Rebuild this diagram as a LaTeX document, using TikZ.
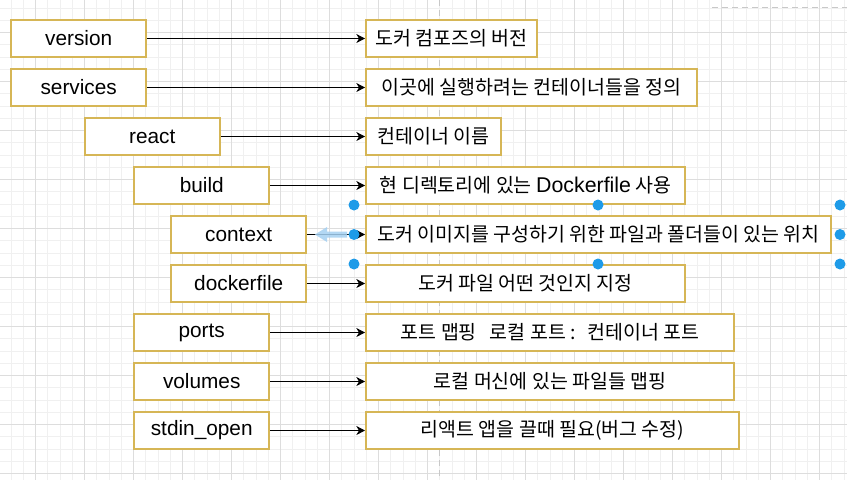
\documentclass[tikz,border=0pt]{standalone}
\usepackage{fontspec}
\setmainfont{Liberation Sans}
\newfontfamily\kr{Noto Sans CJK KR}
\usetikzlibrary{arrows.meta}
\definecolor{boxgold}{RGB}{214,182,86}
\definecolor{gridminor}{RGB}{240,240,240}
\definecolor{gridmajor}{RGB}{221,221,221}
\definecolor{pagebreak}{RGB}{200,200,200}
\definecolor{handle}{RGB}{30,155,232}
\definecolor{hoverarrow}{RGB}{165,208,242}
\tikzset{
  keybox/.style={draw=boxgold, line width=1.5pt, fill=white, anchor=west, inner sep=0pt,
    minimum width=101.6pt, minimum height=27.75pt, font=\fontsize{15.6}{18}\selectfont},
  notebox/.style={draw=boxgold, line width=1.5pt, fill=white, anchor=west, inner sep=0pt,
    minimum height=27.75pt, font=\kr\fontsize{14.6}{18}\selectfont},
  link/.style={line width=0.75pt, -{Stealth[length=6.5pt,width=6.75pt,inset=2pt]}},
}

\begin{document}
\begin{tikzpicture}[x=0.75pt,y=0.75pt,yscale=-1,xscale=1]
\useasboundingbox (0,0) rectangle (847,480);
\fill[white] (0,0) rectangle (847,480);

%Grid
\foreach \i in {0,...,68} \draw[gridminor, line width=0.75pt] (11.2+\i*12.25,0) -- (11.2+\i*12.25,480);
\foreach \j in {0,...,38} \draw[gridminor, line width=0.75pt] (0,8.2+\j*12.25) -- (847,8.2+\j*12.25);
\foreach \i in {0,...,16} \draw[gridmajor, line width=0.75pt] (35.7+\i*49,0) -- (35.7+\i*49,480);
\foreach \j in {0,...,9} \draw[gridmajor, line width=0.75pt] (0,32.7+\j*49) -- (847,32.7+\j*49);
%Page breaks
\draw[pagebreak, line width=0.75pt, dash pattern=on 4.5pt off 3pt] (439.5,0) -- (439.5,480);
\draw[pagebreak, line width=0.75pt, dash pattern=on 4.5pt off 3pt] (712,7.3) -- (847,7.3);

% Key Nodes
\node[keybox] (version) at (10,38.5) {version};
\node[keybox] (services) at (10,87.5) {services};
\node[keybox] (react) at (83.5,136.5) {react};
\node[keybox] (build) at (133,185.5) {build};
\node[keybox] (context) at (170,234.5) {context};
\node[keybox] (dockerfile) at (170,283.5) {dockerfile};
\node[keybox] (ports) at (133,332.5) {ports};
\node[keybox] (volumes) at (133,381.5) {volumes};
\node[keybox] (stdin) at (133,430.5) {stdin\_open};

% Note Nodes
\node[notebox, minimum width=128.3pt] (versionnote) at (365,38.5) {도커 컴포즈의 버전};
\node[notebox, minimum width=248.3pt] (servicesnote) at (365,87.5) {이곳에 실행하려는 컨테이너들을 정의};
\node[notebox, minimum width=101.6pt] (reactnote) at (365,136.5) {컨테이너 이름};
\node[notebox, minimum width=239.3pt] (buildnote) at (365,185.5) {현 디렉토리에 있는 {\rmfamily\fontsize{16}{18}\selectfont Dockerfile} 사용};
\node[notebox, minimum width=348.8pt] (contextnote) at (365,234.5) {도커 이미지를 구성하기 위한 파일과 폴더들이 있는 위치};
\node[notebox, minimum width=239.3pt] (dockerfilenote) at (365,283.5) {도커 파일 어떤 것인지 지정};
\node[notebox, minimum width=276pt] (portsnote) at (365,332.5) {포트 맵핑\hspace{0.45em} 로컬 포트 :\hspace{0.3em} 컨테이너 포트};
\node[notebox, minimum width=276pt] (volumesnote) at (365,381.5) {로컬 머신에 있는 파일들 맵핑};
\node[notebox, minimum width=279.8pt] (stdinnote) at (365,430.5) {리액트 앱을 끌때 필요(버그 수정)};

%Straight Lines
\foreach \k in {version,services,react,build,context,dockerfile,ports,volumes,stdin}
  \draw[link] (\k.east) -- (\k note.west);

%Selection
\fill[hoverarrow, opacity=0.85] (315,234.5) -- (327,227) -- (327,231.5) -- (347,231.5) -- (347,237.5) -- (327,237.5) -- (327,242) -- cycle;
\foreach \hx/\hy in {354/205, 598/205, 840/205, 354/234.5, 840/234.5, 354/264, 598/264, 840/264}
  \fill[handle] (\hx,\hy) circle (5.5);

\end{tikzpicture}
\end{document}
